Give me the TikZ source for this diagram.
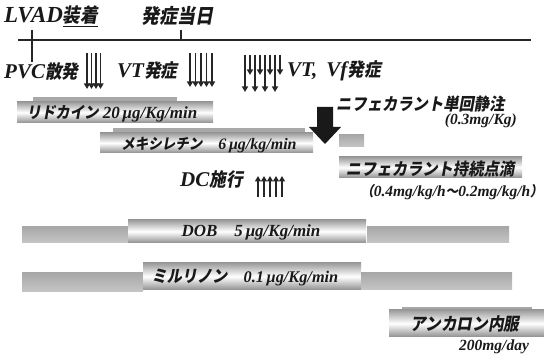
\documentclass[tikz,border=0pt]{standalone}
\usepackage{fontspec}
\setmainfont{Liberation Serif}
\newfontfamily\jp[FakeSlant=0.18,FakeStretch=0.9]{Noto Sans CJK JP}
\usetikzlibrary{arrows.meta}
\newcommand{\Js}[2]{{\fontsize{#1}{#1}\jp #2}}
\begin{document}
\begin{tikzpicture}[x=1pt,y=-1pt,
  every node/.style={inner sep=0pt, text=black!90},
  big/.style={font=\bfseries\itshape\fontsize{21}{21}\selectfont},
  mid/.style={font=\bfseries\itshape\fontsize{17}{17}\selectfont},
  small/.style={font=\bfseries\itshape\fontsize{15.5}{15.5}\selectfont},
  tube/.style={draw=none, top color=gray!78, bottom color=gray!88, middle color=white},
  greybar/.style={draw=none, top color=gray!68, bottom color=gray!45},
  strip/.style={fill=gray!68, draw=none},
  thin/.style={line width=1.4pt, draw=black!85, -{Triangle[width=6pt,length=5.5pt]}},
  fat/.style={fill=black!90, draw=none}
]
\useasboundingbox (0,0) rectangle (544,358);
% header
\node[big, anchor=west, font=\bfseries\itshape\fontsize{23}{23}\selectfont] (lvad) at (4,16) {LVAD\underline{\Js{19.5}{装着}}};
\node[big] (onset) at (177,16) {\Js{20}{発症当日}};
% timeline
\coordinate (tlL) at (18,40);
\coordinate (tlR) at (531,40);
\draw[line width=1.5pt, black!85] (tlL) -- (tlR);
\coordinate (t1a) at (32,30); \coordinate (t1b) at (32,62);
\coordinate (t2a) at (181,30); \coordinate (t2b) at (181,40);
\draw[line width=1.2pt, black!85] (t1a) -- (t1b);
\draw[line width=1.2pt, black!85] (t2a) -- (t2b);
% event labels
\node[big, anchor=west] (pvc) at (4,71) {PVC\Js{18.5}{散発}};
\node[big, anchor=west] (vt) at (117,71) {VT\Js{18.5}{発症}};
\node[big, anchor=west] (vtvf) at (287,71) {VT,\hspace{9pt}Vf\Js{18.5}{発症}};
% arrow clusters
\foreach \x in {87,91.5,96,100.5} \draw[thin] (\x,53) -- (\x,89);
\foreach \x in {190,195.5,201,206.5,212} \draw[thin] (\x,53) -- (\x,87);
\foreach \x in {245,255,265,275} \draw[thin] (\x,55) -- (\x,92);
\foreach \x in {250,260,270,280} \draw[thin] (\x,55) -- (\x,75);
% Lidocaine
\path[strip] (33,97) rectangle (177,102);
\path[tube] (17,102) rectangle (213,123);
\node[mid] (lido) at (112,114) {\Js{16}{リドカイン}\ 20\,μg/Kg/min};
% Mexiletine
\path[strip] (113,128) rectangle (305,133);
\path[tube] (100,133) rectangle (313,153);
\node[mid, font=\bfseries\itshape\fontsize{16}{16}\selectfont] (mex) at (209,145) {\Js{15}{メキシレチン}\quad 6\,μg/kg/min};
% big arrow
\path[fat] (317,107) -- (333,107) -- (333,127) -- (341,127) -- (325,144) -- (309,127) -- (317,127) -- cycle;
\path[greybar] (339,135) rectangle (364,147);
\node[mid, anchor=west] (nife1) at (336,104) {\Js{17}{ニフェカラント単回静注}};
\node[small, anchor=east] (nife1d) at (517,121) {(0.3mg/Kg)};
% Nifekalant drip
\path[tube] (339,157) rectangle (522,178);
\node[mid] (nife2) at (430,169) {\Js{17}{ニフェカラント持続点滴}};
\node[small, anchor=east] (nife2d) at (543,192) {\Js{14}{（}0.4mg/kg/h\Js{14}{～}0.2mg/kg/h\Js{14}{）}};
% DC
\node[big, anchor=west] (dc) at (180,179) {DC\Js{18.5}{施行}};
\foreach \x in {258,264,270,276,282} \draw[thin] (\x,197) -- (\x,176);
% DOB
\path[greybar] (22,227) rectangle (128,243);
\path[tube] (128,220) rectangle (366,243);
\path[greybar] (367,227) rectangle (509,243);
\node[mid] (dob) at (251,232) {DOB\quad 5\,μg/Kg/min};
% Milrinone
\path[greybar] (22,273) rectangle (143,292);
\path[tube] (143,263) rectangle (361,290);
\path[greybar] (361,273) rectangle (512,290);
\node[mid, font=\bfseries\itshape\fontsize{16.3}{16.3}\selectfont] (mil) at (245,278) {\Js{16.8}{ミルリノン}\quad 0.1\,μg/Kg/min};
% Amiodarone
\path[strip] (402,307) rectangle (532,312);
\path[tube] (389,310) rectangle (544,337);
\node[mid] (ami) at (465,324) {\Js{17.4}{アンカロン内服}};
\node[small] (amid) at (494,347) {200mg/day};
\end{tikzpicture}
\end{document}
